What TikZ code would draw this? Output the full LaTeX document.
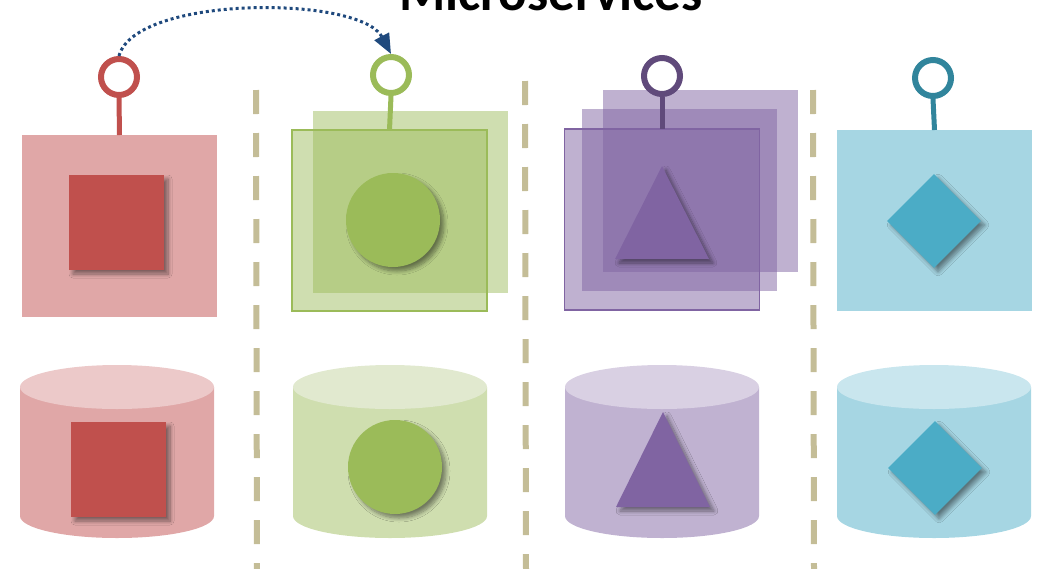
\documentclass[tikz,border=0pt]{standalone}
\usepackage{fontspec}
\setmainfont{Carlito}
\usetikzlibrary{shapes.geometric,arrows.meta,shadows.blur}
\definecolor{redD}{RGB}{192,80,77}
\definecolor{redL}{RGB}{224,167,167}
\definecolor{redT}{RGB}{236,201,201}
\definecolor{grnD}{RGB}{155,187,89}
\definecolor{grnL}{RGB}{207,222,175}
\definecolor{grnT}{RGB}{225,233,207}
\definecolor{purD}{RGB}{128,100,162}
\definecolor{purR}{RGB}{96,74,123}
\definecolor{purL}{RGB}{192,178,209}
\definecolor{purT}{RGB}{217,208,227}
\definecolor{tealD}{RGB}{75,172,198}
\definecolor{tealR}{RGB}{49,133,156}
\definecolor{tealL}{RGB}{166,214,227}
\definecolor{tealT}{RGB}{201,230,238}
\definecolor{divc}{RGB}{196,189,151}
\definecolor{arrc}{RGB}{31,73,125}
\begin{document}
\begin{tikzpicture}[x=0.5pt,y=-0.5pt,
  box/.style={rectangle, minimum width=97.5pt, minimum height=91pt, inner sep=0pt, outer sep=0pt},
  ring/.style={circle, minimum size=18pt, inner sep=0pt, line width=3pt, fill=white},
  stem/.style={line width=2.5pt},
  divider/.style={line width=3pt, draw=divc, dash pattern=on 12pt off 9.5pt},
  shad/.style={blur shadow={shadow xshift=2pt, shadow yshift=-2pt, shadow blur radius=2pt, shadow blur steps=8, shadow blur extra rounding=0pt, shadow opacity=45}},
  sq/.style={rectangle, minimum size=47.5pt, inner sep=0pt, fill=redD, shad},
  circ/.style={circle, minimum size=47pt, inner sep=0pt, fill=grnD, shad},
  dia/.style={diamond, aspect=1, minimum width=47pt, minimum height=47pt, inner sep=0pt, fill=tealD, shad},
  ttl/.style={font=\bfseries\fontsize{26.5}{30}\selectfont, anchor=base, inner sep=0pt}
]
\useasboundingbox (0,0) rectangle (1038,568);
\clip (0,0) rectangle (1038,568);

% title
\node[ttl] (title) at (551,10) {Microservices};

% dividers
\coordinate (d1t) at (256,90);  \coordinate (d1b) at (257,572);
\coordinate (d2t) at (525,81);  \coordinate (d2b) at (526,572);
\coordinate (d3t) at (813,90);  \coordinate (d3b) at (814,572);
\draw[divider] (d1t) -- (d1b);
\draw[divider] (d2t) -- (d2b);
\draw[divider] (d3t) -- (d3b);

% ---------- red column ----------
\node[box, fill=redL] (rbox) at (119.5,226) {};
\node[sq] (rsq) at (116.5,222.5) {};
\node[ring, draw=redD] (rring) at (119,77) {};
\draw[stem, redD] (rring.south) -- (rbox.north);

% ---------- green column ----------
\node[box, fill=grnD, fill opacity=0.48] (gback) at (410.5,202) {};
\node[box, fill=grnD, fill opacity=0.48, draw=grnD, line width=0.6pt, minimum height=90.5pt] (gbox) at (389.5,220.5) {};
\node[circ] (gcirc) at (393,220) {};
\node[ring, draw=grnD] (gring) at (391,75) {};
\draw[stem, grnD] (gring.south) -- (gbox.north);

% ---------- purple column ----------
\node[box, fill=purD, fill opacity=0.5] (pback) at (700.5,181) {};
\node[box, fill=purD, fill opacity=0.5] (pmid) at (679.5,200) {};
\node[box, fill=purD, fill opacity=0.5, draw=purD, line width=0.6pt, minimum height=90.5pt] (pbox) at (662,219.5) {};
\coordinate (pt1) at (662,166);
\coordinate (pt2) at (615,259);
\coordinate (pt3) at (709,259);
\fill[purD, shad] (pt1) -- (pt2) -- (pt3) -- cycle;
\node[ring, draw=purR] (pring) at (662,76) {};
\draw[stem, purR] (pring.south) -- (pbox.north);

% ---------- teal column ----------
\node[box, fill=tealL, minimum height=90.5pt] (tbox) at (934.5,220.5) {};
\node[dia] (tdia) at (934,221) {};
\node[ring, draw=tealR] (tring) at (933,78) {};
\draw[stem, tealR] (tring.south) -- (tbox.north);

% ---------- cylinders ----------
\foreach \cx/\body/\top in {117/redL/redT, 390/grnL/grnT, 662/purL/purT, 934/tealL/tealT}{
  \fill[\body] (\cx-97,387) -- (\cx-97,516) arc[start angle=180, end angle=360, x radius=48.5pt, y radius=11pt] -- (\cx+97,387) -- cycle;
  \fill[\top] (\cx,387) ellipse [x radius=48.5pt, y radius=11pt];
}
\node[sq] (rsq2) at (118.5,469.5) {};
\node[circ] (gcirc2) at (395,467) {};
\coordinate (qt1) at (663,412);
\coordinate (qt2) at (616,507);
\coordinate (qt3) at (710,507);
\fill[purD, shad] (qt1) -- (qt2) -- (qt3) -- cycle;
\node[dia] (tdia2) at (935,468) {};

% ---------- arrow ----------
\draw[arrc, line width=1.5pt, dash pattern=on 1.5pt off 1.5pt, -{Triangle[length=10pt,width=8pt]}]
  (rring.north) .. controls (135,-5) and (360,-5) .. (gring.north);
\end{tikzpicture}
\end{document}
